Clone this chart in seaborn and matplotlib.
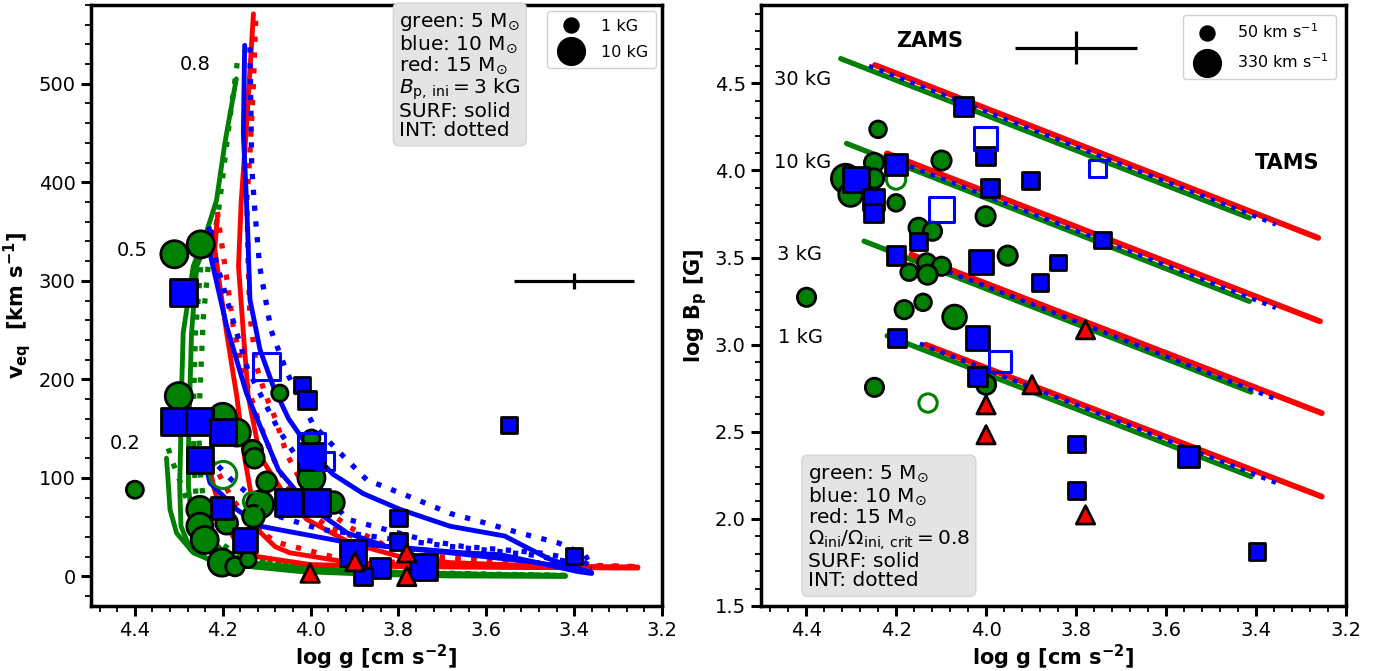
import numpy as np
import matplotlib
matplotlib.use("Agg")
import matplotlib.pyplot as plt
import seaborn as sns
from matplotlib.lines import Line2D
from matplotlib.ticker import MultipleLocator

sns.set_theme(style="ticks")
plt.rcParams['font.family'] = ['DejaVu Sans']
plt.rcParams['mathtext.fontset'] = 'dejavusans'
for key in ('text.color', 'axes.labelcolor', 'xtick.color', 'ytick.color', 'axes.edgecolor'):
    plt.rcParams[key] = 'black'

# ------------------------------------------------------------------
# LEFT PANEL: model tracks  v_eq (km/s) vs log g
# green = 5 Msun, red = 15 Msun, blue = 10 Msun ; S = SURF (solid), I = INT (dotted)
G08S_x = [4.169, 4.195, 4.214, 4.240, 4.267, 4.290, 4.294, 4.296, 4.298, 4.295, 4.273, 4.230, 4.134, 4.000, 3.800, 3.600, 3.420]
G08S_y = [505, 440, 382, 345, 315, 247, 183, 130, 92, 51, 27, 17, 10, 6, 3, 1.5, 0.5]
G08I_x = [4.167, 4.185, 4.210, 4.233, 4.244, 4.252, 4.254, 4.250, 4.240, 4.210, 4.150, 4.000, 3.800, 3.600, 3.420]
G08I_y = [521, 460, 369, 315, 264, 186, 140, 100, 65, 35, 18, 9, 4, 2, 1]
G05S_x = [4.240, 4.259, 4.271, 4.275, 4.278, 4.278, 4.270, 4.250, 4.200, 4.120, 4.000, 3.800, 3.600, 3.420]
G05S_y = [335, 315, 247, 183, 130, 90, 60, 38, 22, 13, 8, 4, 2, 1]
G05I_x = [4.232, 4.250, 4.262, 4.266, 4.266, 4.260, 4.240, 4.200, 4.100, 3.900, 3.600, 3.420]
G05I_y = [345, 315, 247, 183, 120, 75, 45, 25, 13, 6, 2, 1]
G02S_x = [4.328, 4.324, 4.320, 4.305, 4.267, 4.214, 4.138, 4.024, 3.850, 3.683, 3.420]
G02S_y = [120, 95, 68, 44, 24, 14, 10, 5, 2, 0.5, 0]
G02I_x = [4.324, 4.313, 4.290, 4.270, 4.240, 4.180, 4.050, 3.800, 3.420]
G02I_y = [130, 115, 88, 62, 38, 20, 10, 4, 1]

R08S_x = [4.130, 4.140, 4.147, 4.158, 4.164, 4.153, 4.142, 4.115, 4.062, 4.009, 3.910, 3.796, 3.683, 3.500, 3.350, 3.255]
R08S_y = [571, 500, 449, 380, 315, 247, 183, 122, 85, 58, 34, 20, 14, 11, 10, 9.5]
R08I_x = [4.125, 4.130, 4.138, 4.145, 4.142, 4.138, 4.123, 4.104, 4.080, 4.055, 4.020, 3.970, 3.916, 3.828, 3.741, 3.654, 3.480, 3.253]
R08I_y = [564, 500, 430, 382, 315, 264, 213, 186, 160, 125, 95, 70, 51, 31, 20, 17, 13.6, 9.5]
R05S_x = [4.212, 4.218, 4.205, 4.191, 4.168, 4.150, 4.130, 4.115, 4.080, 4.047, 3.910, 3.683, 3.450, 3.255]
R05S_y = [365, 332, 290, 247, 183, 120, 70, 45, 30, 24, 14, 10, 9.5, 9]
R05I_x = [4.212, 4.206, 4.190, 4.176, 4.153, 4.120, 4.080, 4.030, 3.960, 3.870, 3.750, 3.600, 3.400, 3.255]
R05I_y = [370, 349, 300, 254, 207, 160, 115, 75, 50, 35, 22, 15, 11, 10]
R02S_x = [4.232, 4.220, 4.200, 4.170, 4.120, 4.000, 3.800, 3.500, 3.255]
R02S_y = [115, 90, 60, 35, 20, 12, 10, 9, 8.5]
R02I_x = [4.225, 4.210, 4.180, 4.140, 4.080, 3.950, 3.800, 3.500, 3.255]
R02I_y = [118, 105, 80, 55, 35, 20, 14, 11, 10]

B08S_x = [4.150, 4.153, 4.146, 4.143, 4.138, 4.115, 4.085, 4.050, 4.000, 3.950, 3.880, 3.796, 3.683, 3.558, 3.515, 3.453, 3.392, 3.370]
B08S_y = [539, 449, 382, 348, 281, 230, 193, 160, 128, 104, 84, 68, 51, 41, 31, 17, 8.5, 5]
B08I_x = [4.138, 4.134, 4.127, 4.116, 4.090, 4.054, 3.994, 3.941, 3.872, 3.758, 3.683, 3.600, 3.523, 3.436, 3.375, 3.366]
B08I_y = [537, 416, 372, 315, 250, 207, 154, 129, 98, 78, 64, 54, 44, 34, 22, 14]
B05S_x = [4.225, 4.229, 4.191, 4.146, 4.073, 4.003, 3.916, 3.828, 3.654, 3.567, 3.480, 3.392, 3.360]
B05S_y = [350, 328, 254, 186, 108, 71, 44, 30.5, 24, 22, 13.6, 5, 3]
B05I_x = [4.232, 4.214, 4.184, 4.143, 4.073, 4.000, 3.916, 3.741, 3.654, 3.480, 3.392, 3.357]
B05I_y = [355, 318, 271, 210, 149, 100, 58, 37, 30.5, 24, 17, 10]
B02S_x = [4.240, 4.229, 4.168, 4.115, 3.910, 3.683, 3.500, 3.400, 3.360]
B02S_y = [115, 95, 68, 51, 34, 24, 15, 8, 4]
B02I_x = [4.210, 4.180, 4.153, 4.080, 3.980, 3.865, 3.683, 3.500, 3.400, 3.360]
B02I_y = [112, 98, 88, 62, 48, 41, 30.5, 22, 14, 8]

# LEFT PANEL: observed stars (log g, v_eq, B_p in kG -> marker size)
GL_logg = [4.40, 4.31, 4.25, 4.30, 4.20, 4.168, 4.132, 4.128, 4.100, 4.115, 4.130, 4.252, 4.252, 4.241, 4.191, 4.202, 4.172, 4.142, 4.070, 3.998, 3.998, 3.948]
GL_v    = [88, 327, 337, 183, 162, 146, 128, 120, 96, 73, 61, 68, 51, 37, 54, 14, 10, 17, 186, 140, 100, 75]
GL_B    = [1.5, 11, 11, 10, 10, 10, 3.5, 3.5, 3.5, 11, 5, 9, 9, 10, 5, 10, 2.5, 0.8, 1.0, 1.5, 11, 5]
GLo_logg = [4.199, 4.132]
GLo_v    = [103, 76]
GLo_B    = [10, 2.5]

BL_logg = [4.290, 4.309, 4.252, 4.199, 4.252, 4.202, 4.149, 4.020, 4.009, 3.998, 4.051, 3.986, 3.800, 3.800, 3.903, 3.842, 3.880, 3.743, 3.549, 3.400]
BL_v    = [288, 157, 157, 147, 118.5, 69.4, 37, 194, 179, 122, 75, 75, 59, 35.5, 24, 8.5, 0, 10, 154, 21]
BL_B    = [12, 12, 12, 9, 9, 5, 7, 1, 2, 10, 11, 11, 1, 1, 9, 3.5, 2, 9, 1, 1]
BLo_logg = [4.100, 3.998, 3.967]
BLo_v    = [213, 132, 117]
BLo_B    = [12, 12, 2]

RL_logg = [4.001, 3.899, 3.781, 3.781]
RL_v    = [3.4, 15, 24, 0]
RL_B    = [2.5, 2.5, 2.5, 2.5]

# error bar (left)
EL_x, EL_y, EL_xerr, EL_yerr = 3.40, 300, 0.137, 8

# ------------------------------------------------------------------
# RIGHT PANEL: flux-conservation tracks log B_p vs log g (start, end)
LINE_labels = ['30 kG', '10 kG', '3 kG', '1 kG']
GLN_x0 = [4.323, 4.310, 4.271, 4.220]; GLN_y0 = [4.642, 4.155, 3.594, 3.051]
GLN_x1 = [3.415, 3.415, 3.411, 3.411]; GLN_y1 = [3.728, 3.249, 2.728, 2.243]
RLN_x0 = [4.247, 4.220, 4.166, 4.134]; RLN_y0 = [4.605, 4.098, 3.517, 3.000]
RLN_x1 = [3.262, 3.258, 3.254, 3.254]; RLN_y1 = [3.613, 3.134, 2.607, 2.128]
BLN_x0 = [4.260, 4.215, 4.153, 4.147]; BLN_y0 = [4.600, 4.070, 3.489, 3.006]
BLN_x1 = [3.356, 3.356, 3.353, 3.344]; BLN_y1 = [3.690, 3.211, 2.684, 2.195]

# RIGHT PANEL: observed stars (log g, log B_p, v_eq -> marker size)
GR_logg = [4.240, 4.099, 4.312, 4.249, 4.249, 4.301, 4.200, 4.001, 4.150, 4.119, 3.952, 4.132, 4.099, 4.171, 4.130, 4.399, 4.182, 4.140, 4.070, 4.248, 4.000]
GR_logB = [4.236, 4.057, 3.954, 4.044, 3.954, 3.862, 3.814, 3.737, 3.671, 3.651, 3.511, 3.470, 3.450, 3.416, 3.402, 3.272, 3.201, 3.243, 3.159, 2.755, 2.770]
GR_v    = [50, 100, 330, 100, 100, 200, 50, 100, 100, 80, 100, 80, 80, 50, 100, 80, 80, 50, 200, 80, 100]
GRo_logg = [4.200, 4.129]
GRo_logB = [3.948, 2.665]
GRo_v    = [100, 80]

BR_logg = [4.050, 4.001, 4.289, 4.200, 4.250, 4.250, 3.992, 3.901, 4.150, 3.741, 4.200, 4.012, 3.840, 3.880, 4.198, 4.019, 4.019, 3.799, 3.550, 3.799, 3.398]
BR_logB = [4.366, 4.082, 3.948, 4.034, 3.833, 3.757, 3.901, 3.943, 3.594, 3.600, 3.511, 3.473, 3.470, 3.355, 3.039, 3.039, 2.818, 2.429, 2.358, 2.163, 1.812]
BR_v    = [100, 80, 250, 140, 140, 80, 80, 50, 50, 50, 80, 200, 25, 50, 80, 200, 100, 50, 140, 50, 50]
BRo_logg = [4.001, 4.099, 3.752, 3.969]
BRo_logB = [4.182, 3.776, 4.010, 2.904]
BRo_v    = [180, 250, 50, 140]

RR_logg = [3.779, 3.898, 4.000, 4.000, 3.779]
RR_logB = [3.086, 2.770, 2.655, 2.483, 2.023]
RR_v    = [80, 80, 80, 80, 80]

ER_x, ER_y, ER_xerr, ER_yerr = 3.80, 4.705, 0.136, 0.093

# ------------------------------------------------------------------
fig = plt.figure(figsize=(13.82, 6.71), dpi=100)
ax1 = fig.add_axes([0.0658, 0.0969, 0.4132, 0.8957])
ax2 = fig.add_axes([0.5507, 0.0969, 0.4233, 0.8957])

DOT = (0, (1, 2.0))

def track(ax, xs, ys, color, dotted, z=2):
    sns.lineplot(x=xs, y=ys, ax=ax, sort=False, estimator=None, color=color,
                 lw=3.8 if dotted else 3.5, linestyle=DOT if dotted else '-',
                 zorder=z, legend=False)

tracks = [
    (G08S_x, G08S_y, 'green', False), (G08I_x, G08I_y, 'green', True),
    (G05S_x, G05S_y, 'green', False), (G05I_x, G05I_y, 'green', True),
    (G02S_x, G02S_y, 'green', False), (G02I_x, G02I_y, 'green', True),
    (R08S_x, R08S_y, 'red', False), (R08I_x, R08I_y, 'red', True),
    (R05S_x, R05S_y, 'red', False), (R05I_x, R05I_y, 'red', True),
    (R02S_x, R02S_y, 'red', False), (R02I_x, R02I_y, 'red', True),
    (B08S_x, B08S_y, 'blue', False), (B08I_x, B08I_y, 'blue', True),
    (B05S_x, B05S_y, 'blue', False), (B05I_x, B05I_y, 'blue', True),
    (B02S_x, B02S_y, 'blue', False), (B02I_x, B02I_y, 'blue', True),
]
for xs, ys, c, d in tracks:
    track(ax1, xs, ys, c, d)

# size mapping: B (kG) -> marker area (left) ; v (km/s) -> marker area (right)
L_SIZES, L_NORM = (110, 380), (0, 10)
R_SIZES, R_NORM = (95, 420), (0, 330)

def stars(ax, x, y, s, marker, color, sizes, norm, hollow=False, z=4):
    if hollow:
        sns.scatterplot(x=x, y=y, size=s, sizes=sizes, size_norm=norm, ax=ax,
                        marker=marker, color=color, facecolor='none', edgecolor=color,
                        linewidth=2.2, zorder=z, legend=False)
    else:
        sns.scatterplot(x=x, y=y, size=s, sizes=sizes, size_norm=norm, ax=ax,
                        marker=marker, color=color, edgecolor='black',
                        linewidth=2.0, zorder=z, legend=False)

stars(ax1, GL_logg, GL_v, GL_B, 'o', 'green', L_SIZES, L_NORM, z=4)
stars(ax1, GLo_logg, GLo_v, GLo_B, 'o', 'green', L_SIZES, L_NORM, hollow=True, z=4)
stars(ax1, BL_logg, BL_v, BL_B, 's', 'blue', L_SIZES, L_NORM, z=5)
stars(ax1, BLo_logg, BLo_v, BLo_B, 's', 'blue', L_SIZES, L_NORM, hollow=True, z=5)
stars(ax1, RL_logg, RL_v, RL_B, '^', 'red', L_SIZES, L_NORM, z=6)

ax1.errorbar(EL_x, EL_y, xerr=EL_xerr, yerr=EL_yerr, color='black', lw=2.3, capsize=0, zorder=6)

ax1.text(4.262, 520, '0.8', fontsize=14, ha='center', va='center')
ax1.text(4.406, 331, '0.5', fontsize=14, ha='center', va='center')
ax1.text(4.422, 135, '0.2', fontsize=14, ha='center', va='center')

box = dict(boxstyle='round,pad=0.3', facecolor='#e4e4e4', edgecolor='#d6d6d6')
ax1.text(0.54, 0.99,
         'green: 5 M$_{\\odot}$\nblue: 10 M$_{\\odot}$\nred: 15 M$_{\\odot}$\n'
         '$B_{\\rm p,\\,ini} = 3$ kG\nSURF: solid\nINT: dotted',
         transform=ax1.transAxes, ha='left', va='top', fontsize=14.5, bbox=box, zorder=10,
         linespacing=1.0)

h1 = [Line2D([], [], marker='o', ls='', color='black', markersize=10.8),
      Line2D([], [], marker='o', ls='', color='black', markersize=20)]
ax1.legend(h1, ['1 kG', '10 kG'], loc='upper right', fontsize=11.5, borderpad=0.5,
           labelspacing=0.7, handletextpad=0.9, borderaxespad=0.35, framealpha=0.9)

ax1.set_xlim(4.5, 3.2)
ax1.set_ylim(-30, 580)
ax1.xaxis.set_major_locator(MultipleLocator(0.2))
ax1.xaxis.set_minor_locator(MultipleLocator(0.04))
ax1.yaxis.set_major_locator(MultipleLocator(100))
ax1.yaxis.set_minor_locator(MultipleLocator(20))
ax1.set_xlabel('log g [cm s$^{\\mathbf{-2}}$]', fontsize=15, fontweight='bold', labelpad=2)
ax1.set_ylabel('$\\mathbf{v_{eq}}$  [km s$^{\\mathbf{-1}}$]', fontsize=15, fontweight='bold')

# ---- right panel ----
for i in range(len(LINE_labels)):
    sns.lineplot(x=[GLN_x0[i], GLN_x1[i]], y=[GLN_y0[i], GLN_y1[i]], ax=ax2, color='green',
                 lw=3.8, zorder=2, legend=False, sort=False, estimator=None)
    sns.lineplot(x=[RLN_x0[i], RLN_x1[i]], y=[RLN_y0[i], RLN_y1[i]], ax=ax2, color='red',
                 lw=4.2, zorder=2, legend=False, sort=False, estimator=None)
    sns.lineplot(x=[BLN_x0[i], BLN_x1[i]], y=[BLN_y0[i], BLN_y1[i]], ax=ax2, color='blue',
                 lw=3.2, linestyle=(0, (1, 1.5)), zorder=2, legend=False, sort=False, estimator=None)

LABEL_x = [4.408, 4.408, 4.414, 4.412]
LABEL_y = [4.523, 4.044, 3.517, 3.039]
for lx, ly, lt in zip(LABEL_x, LABEL_y, LINE_labels):
    ax2.text(lx, ly, lt, fontsize=14, ha='center', va='center')
ax2.text(4.126, 4.743, 'ZAMS', fontsize=15, fontweight='bold', ha='center', va='center')
ax2.text(3.330, 4.044, 'TAMS', fontsize=15, fontweight='bold', ha='center', va='center')

stars(ax2, GR_logg, GR_logB, GR_v, 'o', 'green', R_SIZES, R_NORM, z=4)
stars(ax2, GRo_logg, GRo_logB, GRo_v, 'o', 'green', R_SIZES, R_NORM, hollow=True, z=4)
stars(ax2, BR_logg, BR_logB, BR_v, 's', 'blue', R_SIZES, R_NORM, z=5)
stars(ax2, BRo_logg, BRo_logB, BRo_v, 's', 'blue', R_SIZES, R_NORM, hollow=True, z=5)
stars(ax2, RR_logg, RR_logB, RR_v, '^', 'red', R_SIZES, R_NORM, z=6)

ax2.errorbar(ER_x, ER_y, xerr=ER_xerr, yerr=ER_yerr, color='black', lw=2.3, capsize=0, zorder=6)

ax2.text(0.08, 0.026,
         'green: 5 M$_{\\odot}$\nblue: 10 M$_{\\odot}$\nred: 15 M$_{\\odot}$\n'
         '$\\Omega_{\\rm ini}/\\Omega_{\\rm ini,\\,crit} = 0.8$\nSURF: solid\nINT: dotted',
         transform=ax2.transAxes, ha='left', va='bottom', fontsize=14.5, bbox=box, zorder=10,
         linespacing=1.0)

h2 = [Line2D([], [], marker='o', ls='', color='black', markersize=10.8),
      Line2D([], [], marker='o', ls='', color='black', markersize=20)]
ax2.legend(h2, ['50 km s$^{-1}$', '330 km s$^{-1}$'], loc='upper right', fontsize=11.5,
           borderpad=0.5, labelspacing=0.7, handletextpad=0.9, borderaxespad=0.6, framealpha=0.9)

ax2.set_xlim(4.5, 3.2)
ax2.set_ylim(1.5, 4.95)
ax2.xaxis.set_major_locator(MultipleLocator(0.2))
ax2.xaxis.set_minor_locator(MultipleLocator(0.04))
ax2.yaxis.set_major_locator(MultipleLocator(0.5))
ax2.yaxis.set_minor_locator(MultipleLocator(0.1))
ax2.set_xlabel('log g [cm s$^{\\mathbf{-2}}$]', fontsize=15, fontweight='bold', labelpad=2)
ax2.set_ylabel('log B$_{\\mathbf{p}}$ [G]', fontsize=15, fontweight='bold')

for ax in (ax1, ax2):
    for sp in ax.spines.values():
        sp.set_linewidth(2.5)
        sp.set_color('black')
    ax.tick_params(which='major', length=7.5, width=2.2, labelsize=14, color='black', labelcolor='black')
    ax.tick_params(which='minor', length=4, width=1.3, color='black')
    ax.tick_params(top=False, right=False)

fig.savefig('out.png', dpi=100)
